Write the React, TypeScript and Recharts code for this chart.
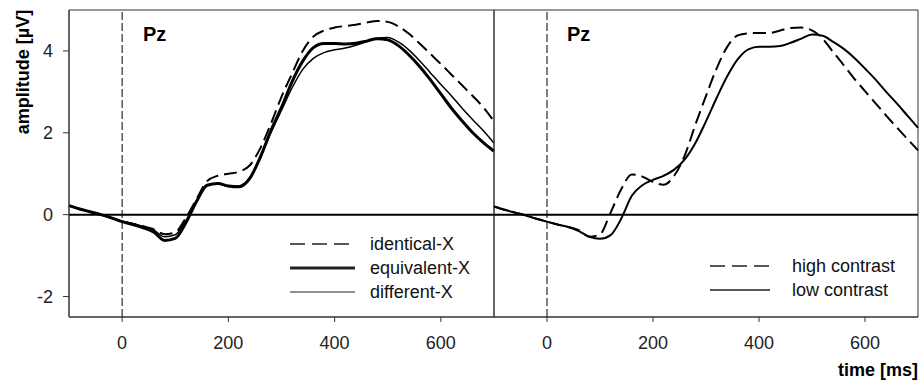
import React from 'react';
import { LineChart, Line, XAxis, YAxis, ReferenceLine, ReferenceArea } from 'recharts';

// time axis (ms), sampled every 20 ms
const times = [
  -100, -80, -60, -40, -20, 0, 20, 40, 60, 80, 100, 120, 140, 160, 180, 200, 220, 240, 260, 280,
  300, 320, 340, 360, 380, 400, 420, 440, 460, 480, 500, 520, 540, 560, 580, 600, 620, 640, 660, 680, 700,
];

// left panel
const identicalX = [
  0.22, 0.14, 0.07, 0.0, -0.08, -0.16, -0.22, -0.28, -0.36, -0.48, -0.43, -0.08, 0.38, 0.82, 0.95, 1.0, 1.05, 1.2, 1.62, 2.22,
  2.88, 3.45, 4.0, 4.35, 4.5, 4.57, 4.61, 4.64, 4.69, 4.73, 4.71, 4.6, 4.42, 4.18, 3.93, 3.68, 3.42, 3.16, 2.9, 2.62, 2.28,
];
const equivalentX = [
  0.22, 0.14, 0.07, 0.0, -0.08, -0.17, -0.24, -0.32, -0.43, -0.63, -0.58, -0.2, 0.32, 0.72, 0.76, 0.7, 0.68, 0.88, 1.4, 2.05,
  2.62, 3.25, 3.75, 4.08, 4.18, 4.18, 4.17, 4.19, 4.24, 4.3, 4.27, 4.13, 3.9, 3.62, 3.3, 2.95, 2.6, 2.29, 2.0, 1.76, 1.55,
];
const differentX = [
  0.22, 0.14, 0.07, 0.0, -0.08, -0.16, -0.22, -0.29, -0.38, -0.54, -0.49, -0.15, 0.33, 0.72, 0.76, 0.69, 0.7, 0.9, 1.38, 2.0,
  2.55, 3.1, 3.55, 3.82, 3.96, 4.03, 4.07, 4.14, 4.23, 4.31, 4.33, 4.22, 4.02, 3.76, 3.47, 3.18, 2.9, 2.6, 2.32, 2.05, 1.75,
];

// right panel
const highContrast = [
  0.2, 0.12, 0.05, -0.02, -0.1, -0.17, -0.24, -0.3, -0.38, -0.54, -0.48, 0.05, 0.62, 0.98, 0.93, 0.8, 0.73, 0.95, 1.45, 2.2,
  2.9, 3.57, 4.1, 4.38, 4.43, 4.44, 4.44, 4.5, 4.56, 4.57, 4.5, 4.3, 3.97, 3.65, 3.32, 3.02, 2.72, 2.42, 2.13, 1.85, 1.57,
];
const lowContrast = [
  0.2, 0.12, 0.05, -0.02, -0.1, -0.17, -0.24, -0.3, -0.4, -0.54, -0.59, -0.5, -0.1, 0.46, 0.72, 0.85, 0.95, 1.1, 1.35, 1.75,
  2.28, 2.85, 3.38, 3.8, 4.04, 4.1, 4.1, 4.12, 4.2, 4.3, 4.4, 4.37, 4.22, 4.05, 3.83, 3.57, 3.3, 3.0, 2.72, 2.42, 2.12,
];

const xTicks = [0, 200, 400, 600];
const yTicks = [-2, 0, 2, 4];

const leftData = times.map((t, i) => ({ t, identical: identicalX[i], equivalent: equivalentX[i], different: differentX[i] }));
const rightData = times.map((t, i) => ({ t, high: highContrast[i], low: lowContrast[i] }));

const FONT = '"Liberation Sans", Arial, sans-serif';
const tickStyle = { fontSize: 18, fill: '#222', fontFamily: FONT };

type Item = { label: string; dash?: string; width: number };

const leftItems: Item[] = [
  { label: 'identical-X', dash: '15 7', width: 1.5 },
  { label: 'equivalent-X', width: 3 },
  { label: 'different-X', width: 1.2 },
];
const rightItems: Item[] = [
  { label: 'high contrast', dash: '15 7', width: 1.5 },
  { label: 'low contrast', width: 1.5 },
];

const LegendBox = ({ items, lineLen, gap, left, top }: { items: Item[]; lineLen: number; gap: number; left: number; top: number }) => (
  <div style={{ position: 'absolute', left, top, fontFamily: FONT, fontSize: 18, color: '#111' }}>
    {items.map((it) => (
      <div key={it.label} style={{ display: 'flex', alignItems: 'center', height: 24, lineHeight: '24px' }}>
        <svg width={lineLen} height={8} style={{ display: 'block' }}>
          <line x1={0} y1={4} x2={lineLen} y2={4} stroke="#222" strokeWidth={it.width} strokeDasharray={it.dash} />
        </svg>
        <span style={{ marginLeft: gap, whiteSpace: 'nowrap' }}>{it.label}</span>
      </div>
    ))}
  </div>
);

const panelBits = () => [
  <ReferenceArea key="box" x1={-100} x2={700} y1={-2.5} y2={5} fill="none" stroke="#333" strokeWidth={1} fillOpacity={0} />,
  <ReferenceLine key="x0" x={0} stroke="#000" strokeWidth={1} strokeDasharray="8 3" />,
  <ReferenceLine key="y0" y={0} stroke="#000" strokeWidth={2} />,
];

const textLabel: React.CSSProperties = {
  position: 'absolute',
  fontFamily: FONT,
  fontWeight: 'bold',
  color: '#000',
  whiteSpace: 'nowrap',
  lineHeight: 1,
};

export default function App() {
  return (
    <div style={{ position: 'absolute', left: 0, top: 0, width: 921, height: 382, background: '#fff', fontFamily: FONT }}>
      <div style={{ position: 'absolute', left: 0, top: 0 }}>
        <LineChart width={496} height={382} data={leftData} margin={{ top: 10, right: 2, bottom: 0, left: 0 }}>
          <XAxis
            dataKey="t"
            type="number"
            domain={[-100, 700]}
            ticks={xTicks}
            height={65}
            tickSize={5}
            tickMargin={14}
            stroke="#333"
            tick={tickStyle}
          />
          <YAxis
            type="number"
            domain={[-2.5, 5]}
            ticks={yTicks}
            width={69}
            tickSize={6}
            tickMargin={10}
            stroke="#333"
            tick={tickStyle}
          />
          {panelBits()}
          <Line dataKey="identical" type="monotone" stroke="#000" strokeWidth={2} strokeDasharray="13 6" dot={false} isAnimationActive={false} />
          <Line dataKey="equivalent" type="monotone" stroke="#000" strokeWidth={3} dot={false} isAnimationActive={false} />
          <Line dataKey="different" type="monotone" stroke="#000" strokeWidth={1.5} dot={false} isAnimationActive={false} />
        </LineChart>
      </div>
      <div style={{ position: 'absolute', left: 490, top: 0 }}>
        <LineChart width={431} height={382} data={rightData} margin={{ top: 10, right: 3, bottom: 0, left: 4 }}>
          <XAxis
            dataKey="t"
            type="number"
            domain={[-100, 700]}
            ticks={xTicks}
            height={65}
            tickSize={5}
            tickMargin={14}
            stroke="#333"
            tick={tickStyle}
          />
          <YAxis type="number" domain={[-2.5, 5]} hide />
          {panelBits()}
          <Line dataKey="high" type="monotone" stroke="#000" strokeWidth={2} strokeDasharray="13 6" dot={false} isAnimationActive={false} />
          <Line dataKey="low" type="monotone" stroke="#000" strokeWidth={2} dot={false} isAnimationActive={false} />
        </LineChart>
      </div>
      <LegendBox items={leftItems} lineLen={65} gap={15} left={290} top={232} />
      <LegendBox items={rightItems} lineLen={60} gap={22} left={710} top={254} />
      <div style={{ ...textLabel, left: 143, top: 24, fontSize: 20 }}>Pz</div>
      <div style={{ ...textLabel, left: 567, top: 24, fontSize: 20 }}>Pz</div>
      <div
        style={{
          ...textLabel,
          left: 23,
          top: 72,
          fontSize: 18,
          transform: 'translate(-50%, -50%) rotate(-90deg)',
        }}
      >
        amplitude [µV]
      </div>
      <div style={{ ...textLabel, right: 3, top: 361, fontSize: 18 }}>time [ms]</div>
    </div>
  );
}
